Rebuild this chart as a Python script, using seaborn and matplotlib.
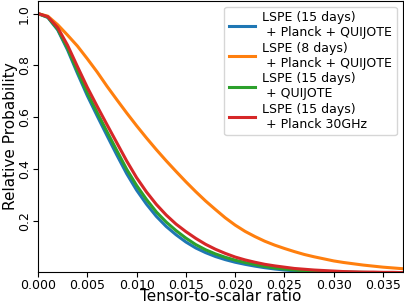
import numpy as np
import pandas as pd
import matplotlib
matplotlib.use("Agg")
import matplotlib.pyplot as plt
import seaborn as sns

r_values = [0.000, 0.001, 0.002, 0.003, 0.004, 0.005, 0.006, 0.007, 0.008, 0.009,
            0.010, 0.011, 0.012, 0.013, 0.014, 0.015, 0.016, 0.017, 0.018, 0.019,
            0.020, 0.021, 0.022, 0.023, 0.024, 0.025, 0.026, 0.027, 0.028, 0.029,
            0.030, 0.031, 0.032, 0.033, 0.034, 0.035, 0.036, 0.037]

lspe15_planck_quijote = [1.000, 0.985, 0.937, 0.860, 0.770, 0.684, 0.606, 0.530, 0.455, 0.383,
                         0.320, 0.266, 0.219, 0.180, 0.148, 0.120, 0.097, 0.079, 0.064, 0.052,
                         0.042, 0.034, 0.027, 0.021, 0.016, 0.012, 0.009, 0.007, 0.006, 0.005,
                         0.004, 0.003, 0.003, 0.002, 0.002, 0.002, 0.001, 0.001]

lspe8_planck_quijote = [1.000, 0.990, 0.957, 0.917, 0.875, 0.826, 0.775, 0.720, 0.668, 0.617,
                        0.568, 0.521, 0.476, 0.433, 0.392, 0.352, 0.314, 0.278, 0.245, 0.213,
                        0.185, 0.161, 0.141, 0.123, 0.108, 0.095, 0.083, 0.072, 0.063, 0.055,
                        0.047, 0.041, 0.036, 0.031, 0.027, 0.023, 0.020, 0.017]

lspe15_quijote = [1.000, 0.986, 0.940, 0.866, 0.779, 0.695, 0.619, 0.545, 0.472, 0.400,
                  0.338, 0.284, 0.236, 0.197, 0.164, 0.135, 0.110, 0.090, 0.074, 0.061,
                  0.050, 0.041, 0.033, 0.026, 0.020, 0.016, 0.012, 0.009, 0.007, 0.006,
                  0.005, 0.004, 0.003, 0.003, 0.002, 0.002, 0.002, 0.001]

lspe15_planck30 = [1.000, 0.988, 0.946, 0.878, 0.796, 0.716, 0.643, 0.572, 0.502, 0.432,
                   0.368, 0.313, 0.265, 0.224, 0.189, 0.160, 0.134, 0.111, 0.092, 0.076,
                   0.062, 0.051, 0.042, 0.034, 0.028, 0.023, 0.018, 0.015, 0.012, 0.010,
                   0.008, 0.006, 0.005, 0.004, 0.004, 0.003, 0.003, 0.002]

labels = ["LSPE (15 days)\n + Planck + QUIJOTE",
          "LSPE (8 days)\n + Planck + QUIJOTE",
          "LSPE (15 days)\n + QUIJOTE",
          "LSPE (15 days)\n + Planck 30GHz"]
series = [lspe15_planck_quijote, lspe8_planck_quijote, lspe15_quijote, lspe15_planck30]
colors = ["#1f77b4", "#ff7f0e", "#2ca02c", "#d62728"]

frames = []
for lab, vals in zip(labels, series):
    frames.append(pd.DataFrame({"r": r_values, "prob": vals, "case": lab}))
df = pd.concat(frames, ignore_index=True)

fig = plt.figure(figsize=(4.04, 3.03), dpi=100)
ax = fig.add_axes([0.094, 0.102, 0.903, 0.896])
sns.lineplot(data=df, x="r", y="prob", hue="case", hue_order=labels,
             palette=colors, linewidth=2.2, ax=ax)

ax.set_xlim(0, 0.037)
ax.set_ylim(0.004, 1.05)
ax.set_xticks([0.000, 0.005, 0.010, 0.015, 0.020, 0.025, 0.030, 0.035])
ax.set_xticklabels(["0.000", "0.005", "0.010", "0.015", "0.020", "0.025", "0.030", "0.035"])
ax.set_yticks([0.2, 0.4, 0.6, 0.8, 1.0])
ax.tick_params(axis="both", labelsize=9, length=3.5)
ax.tick_params(axis="x", pad=1.2)
ax.tick_params(axis="y", pad=1.5)
for t in ax.get_yticklabels():
    t.set_rotation(90)
    t.set_va("center")
ax.set_xlabel("Tensor-to-scalar ratio", fontsize=11, labelpad=-2)
ax.set_ylabel("Relative Probability", fontsize=11, labelpad=0)

handles, labs = ax.get_legend_handles_labels()
ax.legend(handles, labs, loc="upper right", fontsize=9, handlelength=2.1,
          labelspacing=0.2, borderpad=0.35, handletextpad=0.6)

fig.savefig("out.png", dpi=100)
